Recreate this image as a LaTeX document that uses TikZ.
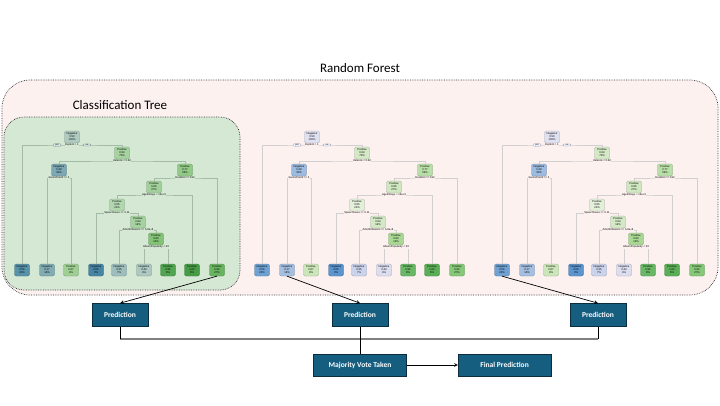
\documentclass[tikz,border=0pt]{standalone}
\usepackage{fontspec}
\setmainfont{Carlito}
\newfontfamily\treefont{Liberation Sans}
\usetikzlibrary{positioning}

\definecolor{forestbg}{RGB}{253,241,240}
\definecolor{treebg}{RGB}{213,232,212}
\definecolor{boxline}{RGB}{50,50,50}
\definecolor{predfill}{RGB}{22,94,128}
\definecolor{predline}{RGB}{12,44,64}
\definecolor{busline}{RGB}{128,128,128}

% node colours: p = on the pink panel, g = seen through the green panel
\newcommand\mkcol[4]{%
  \definecolor{p#1}{RGB}{#2,#3,#4}%
  \pgfmathtruncatemacro\mkr{#2/255*200}%
  \pgfmathtruncatemacro\mkg{#3/255*230}%
  \pgfmathtruncatemacro\mkb{#4/255*205}%
  \edef\mktmp{\noexpand\definecolor{g#1}{RGB}{\mkr,\mkg,\mkb}}\mktmp}
\mkcol{50}{223}{225}{241}
\mkcol{64}{211}{233}{198}
\mkcol{29}{157}{187}{224}
\mkcol{77}{185}{223}{168}
\mkcol{66}{207}{231}{192}
\mkcol{55}{227}{239}{217}
\mkcol{80}{169}{216}{149}
\mkcol{06}{111}{162}{211}
\mkcol{17}{165}{191}{225}
\mkcol{67}{203}{230}{184}
\mkcol{00}{92}{148}{205}
\mkcol{35}{202}{211}{236}
\mkcol{44}{220}{222}{240}
\mkcol{95}{104}{184}{101}
\mkcol{100}{90}{174}{87}
\mkcol{90}{133}{200}{120}
\mkcol{line}{208}{208}{208}

\tikzset{
  tnode/.style={draw=#1!75!black, fill=#1, rounded corners=2pt, line width=0.3pt,
    minimum width=15pt, minimum height=12pt, inner sep=0.3pt, align=center,
    font=\treefont\fontsize{2.7}{3}\selectfont},
  splitlab/.style={fill=#1, inner sep=0.4pt, font=\treefont\fontsize{2.7}{3}\selectfont},
  yesno/.style={draw=#1!70!black, fill=#1!50!white, rounded corners=1pt, line width=0.25pt,
    inner sep=0.5pt, minimum width=8pt, font=\treefont\fontsize{2.2}{2.4}\selectfont},
  branch/.style={draw=#1, line width=0.9pt},
  predbox/.style={draw=predline, fill=predfill, text=white, line width=0.6pt,
    minimum width=56pt, minimum height=23pt, font=\bfseries\fontsize{7.5}{9}\selectfont},
  panel/.style={densely dotted, draw=boxline, line width=0.7pt}
}

\begin{document}
\begin{tikzpicture}[x=1pt, y=-1pt]
\useasboundingbox (0,0) rectangle (720,405);

% panels
\draw[panel, fill=forestbg, rounded corners=28pt] (2,80) rectangle (718,295);
\draw[panel, fill=treebg, rounded corners=20pt] (4,117) rectangle (240,290);
\node (rftitle) [font=\fontsize{13}{15}\selectfont] at (360,68) {Random Forest};
\node (cttitle) [font=\fontsize{13}{15}\selectfont] at (120,105) {Classification Tree};

% three copies of the tree
\foreach \tr/\dx/\pal/\bgc in {a/0/g/treebg, b/240/p/forestbg, c/480/p/forestbg} {
\begin{scope}[xshift=\dx]
\node (n1\tr) [tnode=\pal50] at (72,137) {Negative\\0.50\\100\%};
\node (n2\tr) [tnode=\pal64] at (122,153) {Positive\\0.64\\70\%};
\node (n3\tr) [tnode=\pal29] at (59,170) {Negative\\0.29\\30\%};
\node (n4\tr) [tnode=\pal77] at (185,170) {Positive\\0.77\\56\%};
\node (n5\tr) [tnode=\pal66] at (154,187) {Positive\\0.66\\27\%};
\node (n6\tr) [tnode=\pal55] at (117,205) {Positive\\0.55\\21\%};
\node (n7\tr) [tnode=\pal64] at (138,222) {Positive\\0.64\\14\%};
\node (n8\tr) [tnode=\pal80] at (156,239) {Positive\\0.80\\12\%};
\node (l1\tr) [tnode=\pal06] at (22,270) {Negative\\0.06\\20\%};
\node (l2\tr) [tnode=\pal17] at (47,270) {Negative\\0.17\\16\%};
\node (l3\tr) [tnode=\pal67] at (71,270) {Positive\\0.67\\9\%};
\node (l4\tr) [tnode=\pal00] at (96,270) {Negative\\0.00\\3\%};
\node (l5\tr) [tnode=\pal35] at (119,270) {Negative\\0.35\\7\%};
\node (l6\tr) [tnode=\pal44] at (144,270) {Negative\\0.44\\4\%};
\node (l7\tr) [tnode=\pal95] at (168,270) {Positive\\0.95\\8\%};
\node (l8\tr) [tnode=\pal100] at (192,270) {Positive\\1.00\\6\%};
\node (l9\tr) [tnode=\pal90] at (217,270) {Positive\\0.90\\27\%};
\coordinate (s1\tr) at (72,145);
\coordinate (s2\tr) at (122,161);
\coordinate (s3\tr) at (59,178);
\coordinate (s4\tr) at (185,178);
\coordinate (s5\tr) at (154,195);
\coordinate (s6\tr) at (117,213);
\coordinate (s7\tr) at (138,230);
\coordinate (s8\tr) at (156,247);
\draw[branch=\pal line] (l1\tr) |- (s1\tr) -| (n2\tr);
\draw[branch=\pal line] (n3\tr) |- (s2\tr) -| (n4\tr);
\draw[branch=\pal line] (l2\tr) |- (s3\tr) -| (l3\tr);
\draw[branch=\pal line] (n5\tr) |- (s4\tr) -| (l9\tr);
\draw[branch=\pal line] (n6\tr) |- (s5\tr) -| (l8\tr);
\draw[branch=\pal line] (l4\tr) |- (s6\tr) -| (n7\tr);
\draw[branch=\pal line] (l5\tr) |- (s7\tr) -| (n8\tr);
\draw[branch=\pal line] (l6\tr) |- (s8\tr) -| (l7\tr);
\node (q1\tr) [splitlab=\bgc] at (s1\tr) {Explicit < 1};
\node (q2\tr) [splitlab=\bgc] at (s2\tr) {Valence < 0.48};
\node (q3\tr) [splitlab=\bgc] at (s3\tr) {GenreCount >= 2};
\node (q4\tr) [splitlab=\bgc] at (s4\tr) {Duration >= 192};
\node (q5\tr) [splitlab=\bgc] at (s5\tr) {AgeInDays < 13e+3};
\node (q6\tr) [splitlab=\bgc] at (s6\tr) {Speechiness >= 0.11};
\node (q7\tr) [splitlab=\bgc] at (s7\tr) {ArtistFollowers >= 6.8e+6};
\node (q8\tr) [splitlab=\bgc] at (s8\tr) {AlbumPopularity < 33};
\node (yes\tr) [yesno=\pal50] at (57,145) {yes};
\node (no\tr) [yesno=\pal50] at (87,145) {no};
\end{scope}
}

% predictions and the vote
\node (pred1) [predbox] at (120,315) {Prediction};
\node (pred2) [predbox] at (360,315) {Prediction};
\node (pred3) [predbox] at (598,315) {Prediction};
\node (vote) [predbox, minimum width=93pt, minimum height=22pt] at (360,365) {Majority Vote Taken};
\node (final) [predbox, minimum width=93pt, minimum height=22pt] [right = 51pt of vote] {Final Prediction};
\coordinate (busL) at (pred1.south |- 0,339);
\coordinate (busR) at (pred3.south |- 0,339);

\draw[-stealth, line width=0.7pt] (l9a.south) -- (pred1.north);
\draw[-stealth, line width=0.7pt] (l2b.south) -- (pred2.north);
\draw[-stealth, line width=0.7pt] (l1c.south) -- (pred3.north);
\draw[busline, line width=1.5pt] (busL) -- (busR);
\draw[line width=0.6pt] (pred1) -- (busL);
\draw[line width=0.6pt] (pred3) -- (busR);
\draw[line width=0.6pt] (pred2) -- (vote);
\draw[-stealth, line width=0.6pt] (vote) -- (final);
\end{tikzpicture}
\end{document}
